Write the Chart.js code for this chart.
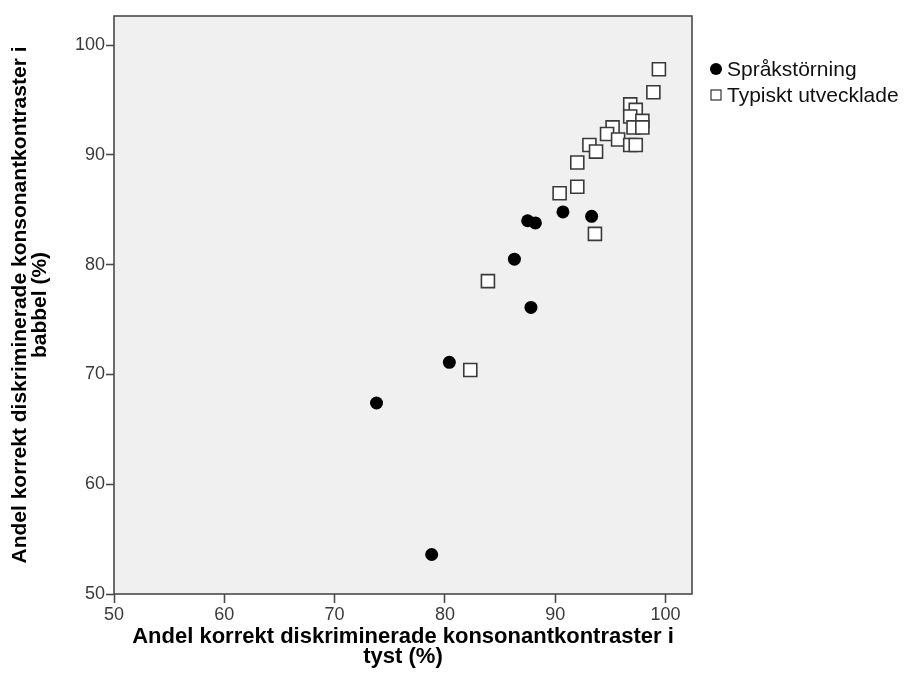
<!DOCTYPE html>
<html>
<head>
<meta charset="utf-8">
<script src="https://cdn.jsdelivr.net/npm/chart.js@4"></script>
<style>
  html, body { margin: 0; padding: 0; background: #fff; }
  #wrap { width: 910px; height: 682px; }
</style>
</head>
<body>
<div id="wrap"><canvas id="plot" width="910" height="682"></canvas></div>
<script>
// Språkstörning (filled circles)
const sprakX = [78.8, 73.8, 80.4, 87.8, 86.3, 87.5, 88.2, 90.7, 93.3];
const sprakY = [53.6, 67.4, 71.1, 76.1, 80.5, 84.0, 83.8, 84.8, 84.4];

// Typiskt utvecklade (open squares)
const typX = [99.4, 98.9, 96.8, 97.3, 96.8, 97.9, 97.1, 97.9, 95.2, 94.7, 95.7,
              96.8, 97.3, 93.1, 93.7, 92.0, 92.0, 90.4, 93.6, 83.9, 82.3];
const typY = [97.8, 95.7, 94.6, 94.1, 93.5, 93.1, 92.5, 92.5, 92.5, 91.9, 91.4,
              90.9, 90.9, 90.9, 90.3, 89.3, 87.1, 86.5, 82.8, 78.5, 70.4];

const seriesNames = ['Språkstörning', 'Typiskt utvecklade'];
const xTitle = ['Andel korrekt diskriminerade konsonantkontraster i', 'tyst (%)'];
const yTitle = ['Andel korrekt diskriminerade konsonantkontraster i', 'babbel (%)'];
const tickValues = [50, 60, 70, 80, 90, 100];

function pairs(xs, ys) {
  return xs.map((x, i) => ({x: x, y: ys[i]}));
}

const FONT = "'Liberation Sans', Arial, sans-serif";

// grey panel + box round the plot area
const panelBox = {
  id: 'panelBox',
  beforeDatasetsDraw(chart) {
    const {ctx, chartArea: a} = chart;
    ctx.save();
    ctx.fillStyle = '#f0f0f0';
    ctx.fillRect(a.left, a.top, a.right - a.left, a.bottom - a.top);
    ctx.restore();
  },
  afterDatasetsDraw(chart) {
    const {ctx, chartArea: a} = chart;
    ctx.save();
    ctx.strokeStyle = '#4a4a4a';
    ctx.lineWidth = 1.6;
    ctx.strokeRect(a.left, a.top, a.right - a.left, a.bottom - a.top);
    ctx.restore();
  }
};

// legend to the right, like the SPSS output
const sideLegend = {
  id: 'sideLegend',
  afterDraw(chart) {
    const {ctx, chartArea: a} = chart;
    const x0 = a.right + 24;
    const rows = [70, 96];
    ctx.save();
    ctx.font = '21px ' + FONT;
    ctx.textBaseline = 'middle';
    chart.data.datasets.forEach((ds, i) => {
      const y = rows[i];
      if (i === 0) {
        ctx.beginPath();
        ctx.arc(x0, y - 1, 6, 0, Math.PI * 2);
        ctx.fillStyle = '#000';
        ctx.fill();
      } else {
        ctx.fillStyle = '#fff';
        ctx.fillRect(x0 - 5, y - 6, 10, 10);
        ctx.strokeStyle = '#333';
        ctx.lineWidth = 1.2;
        ctx.strokeRect(x0 - 5, y - 6, 10, 10);
      }
      ctx.fillStyle = '#111';
      ctx.fillText(ds.label, x0 + 11, y);
    });
    ctx.restore();
  }
};

const data = {
  datasets: [
    {
      label: seriesNames[0],
      data: pairs(sprakX, sprakY),
      pointStyle: 'circle',
      pointRadius: 6.5,
      pointHoverRadius: 6.5,
      backgroundColor: '#000',
      borderColor: '#000',
      borderWidth: 0
    },
    {
      label: seriesNames[1],
      data: pairs(typX, typY),
      pointStyle: 'rect',
      pointRadius: 9.2,
      pointHoverRadius: 9.2,
      backgroundColor: '#fff',
      borderColor: '#3a3a3a',
      borderWidth: 1.6
    }
  ]
};

const axisTicks = {
  color: '#3a3a3a',
  font: {family: FONT, size: 18},
  padding: 1,
  includeBounds: false,
  stepSize: 10
};

const config = {
  type: 'scatter',
  data,
  options: {
    responsive: false,
    animation: false,
    layout: {padding: {left: 0, top: 16, right: 218, bottom: 0}},
    plugins: {
      legend: {display: false},
      tooltip: {enabled: false}
    },
    scales: {
      x: {
        type: 'linear',
        min: 50,
        max: 102.4,
        afterBuildTicks(scale) { scale.ticks = tickValues.map(v => ({value: v})); },
        afterFit(scale) { scale.height = 88; },
        grid: {drawOnChartArea: false, drawTicks: true, tickLength: 9, tickColor: '#4a4a4a', tickWidth: 1.6},
        border: {display: false},
        ticks: axisTicks,
        title: {
          display: true,
          text: xTitle,
          color: '#000',
          font: {family: FONT, size: 22, weight: 'bold', lineHeight: 0.92},
          padding: {top: 0, bottom: 15}
        }
      },
      y: {
        type: 'linear',
        min: 50,
        max: 102.65,
        afterBuildTicks(scale) { scale.ticks = tickValues.map(v => ({value: v})); },
        afterFit(scale) { scale.width = 114; },
        grid: {drawOnChartArea: false, drawTicks: true, tickLength: 8, tickColor: '#4a4a4a', tickWidth: 1.6},
        border: {display: false},
        ticks: axisTicks,
        title: {
          display: true,
          text: yTitle,
          color: '#000',
          font: {family: FONT, size: 21, weight: 'bold', lineHeight: 0.92},
          padding: {top: 11, bottom: 0}
        }
      }
    }
  },
  plugins: [panelBox, sideLegend]
};

let myChart = new Chart(document.getElementById('plot'), config);
</script>
</body>
</html>
